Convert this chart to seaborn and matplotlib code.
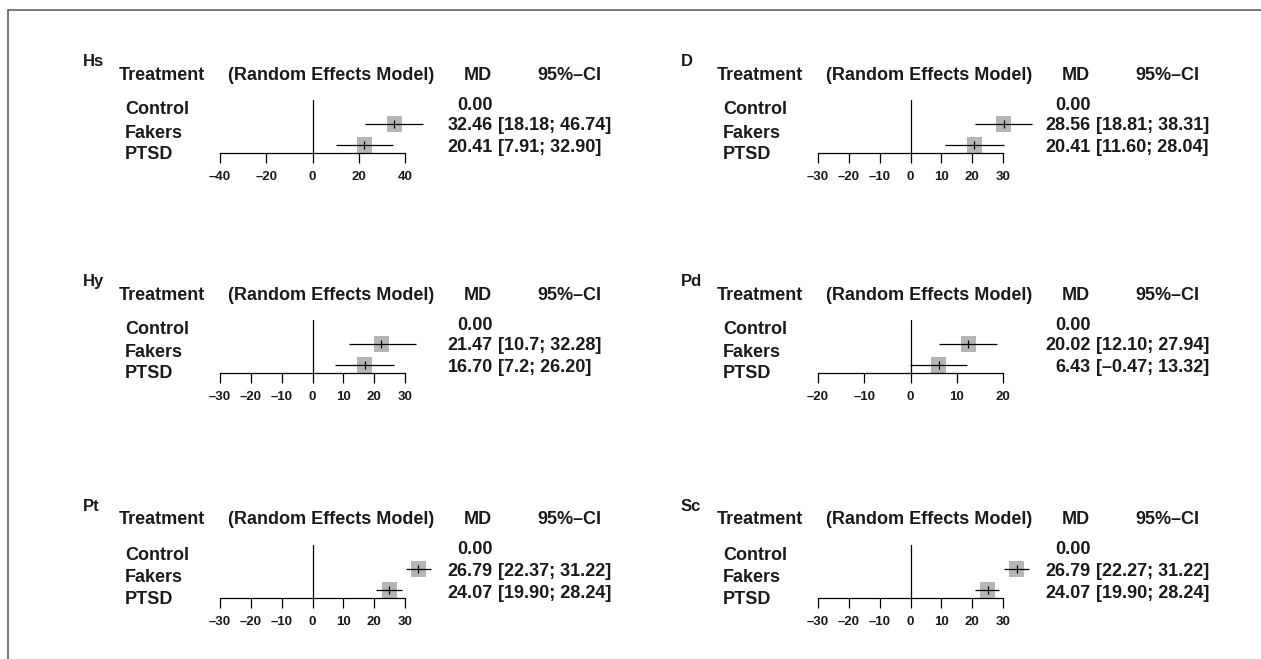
# Forest plots of MD (random effects model) for six MMPI scales

import numpy as np
import pandas as pd
import matplotlib
matplotlib.use("Agg")
import matplotlib.pyplot as plt
import seaborn as sns
from matplotlib.lines import Line2D

# 1. Data (positions of the marks)
scales = ['Hs', 'D', 'Hy', 'Pd', 'Pt', 'Sc']
treatments = ['Control', 'Fakers', 'PTSD']

fakers_est = [35.3, 30.2, 22.3, 12.5, 34.3, 34.4]
fakers_lo = [22.7, 20.8, 11.7, 6.2, 30.2, 30.3]
fakers_hi = [47.8, 39.5, 33.6, 18.7, 38.3, 38.5]
ptsd_est = [22.4, 20.7, 16.9, 6.1, 24.9, 25.0]
ptsd_lo = [10.0, 11.2, 7.4, -0.2, 20.7, 20.8]
ptsd_hi = [35.0, 30.2, 26.3, 12.3, 29.0, 28.8]

# printed values
md_fakers = ['32.46', '28.56', '21.47', '20.02', '26.79', '26.79']
ci_fakers = ['[18.18; 46.74]', '[18.81; 38.31]', '[10.7; 32.28]',
             '[12.10; 27.94]', '[22.37; 31.22]', '[22.27; 31.22]']
md_ptsd = ['20.41', '20.41', '16.70', '6.43', '24.07', '24.07']
ci_ptsd = ['[7.91; 32.90]', '[11.60; 28.04]', '[7.2; 26.20]',
           '[\u20130.47; 13.32]', '[19.90; 28.24]', '[19.90; 28.24]']

axis_ticks = [[-40, -20, 0, 20, 40],
              [-30, -20, -10, 0, 10, 20, 30],
              [-30, -20, -10, 0, 10, 20, 30],
              [-20, -10, 0, 10, 20],
              [-30, -20, -10, 0, 10, 20, 30],
              [-30, -20, -10, 0, 10, 20, 30]]

# 2. Figure setup
sns.set_theme(style='white')
plt.rcParams['font.family'] = ['Liberation Sans', 'DejaVu Sans']

W, H = 1261, 659
fig = plt.figure(figsize=(W / 100, H / 100), dpi=100)
fig.patch.set_facecolor('white')


def fx(x):
    return x / W


def fy(y):
    return 1 - y / H


TXT = '#1a1a1a'
FS = 13


def put(x, y, s, ha='left', fs=FS):
    fig.text(fx(x), fy(y), s, ha=ha, va='baseline', fontsize=fs,
             fontweight='bold', color=TXT)


# frame (only top and left edges show)
fig.add_artist(Line2D([fx(8), fx(8)], [fy(10), 0], color='#555555', lw=1.1))
fig.add_artist(Line2D([fx(8), 1], [fy(10), fy(10)], color='#555555', lw=1.1))

col_dx = [0, 598]
row_dy = [0, 220, 445]

# 3. Panels
for i, scale in enumerate(scales):
    dx = col_dx[i % 2]
    dy = row_dy[i // 2]

    put(83 + dx, 66 + dy, scale, fs=12)
    put(119 + dx, 79.5 + dy, 'Treatment')
    put(228 + dx, 79.5 + dy, '(Random Effects Model)')
    put(492 + dx, 79.5 + dy, 'MD', ha='right')
    put(537 + dx, 79.5 + dy, '95%\u2013CI')

    for t, yb in zip(treatments, [114.5, 137.5, 158.5]):
        put(125 + dx, yb + dy, t)

    put(493 + dx, 109.5 + dy, '0.00', ha='right')
    put(493 + dx, 130.5 + dy, md_fakers[i], ha='right')
    put(498 + dx, 130.5 + dy, ci_fakers[i])
    put(493 + dx, 152.5 + dy, md_ptsd[i], ha='right')
    put(498 + dx, 152.5 + dy, ci_ptsd[i])

    # forest part
    left, right, top, bottom = 220 + dx, 405 + dx, 100 + dy, 153 + dy
    ax = fig.add_axes([fx(left), fy(bottom), (right - left) / W, (bottom - top) / H])
    ax.patch.set_visible(False)

    df = pd.DataFrame({
        'group': ['Fakers', 'PTSD'],
        'row': [2, 1],
        'est': [fakers_est[i], ptsd_est[i]],
        'lo': [fakers_lo[i], ptsd_lo[i]],
        'hi': [fakers_hi[i], ptsd_hi[i]],
    })

    sns.scatterplot(data=df, x='est', y='row', marker='s', s=118,
                    color='#b5b5b5', edgecolor='none', linewidth=0,
                    legend=False, ax=ax, zorder=2, clip_on=False)
    ax.hlines(df['row'], df['lo'], df['hi'], color='black', lw=0.9,
              zorder=3, clip_on=False)
    ax.plot(df['est'], df['row'], '|', ms=6, mew=0.9, color='black',
            zorder=4, clip_on=False)
    ax.axvline(0, color='black', lw=0.9, zorder=1)

    ticks = axis_ticks[i]
    ax.set_xlim(ticks[0], ticks[-1])
    ax.set_ylim(0.62, 3.14)
    ax.set_xticks(ticks)
    ax.set_xticklabels([str(t).replace('-', '\u2013') for t in ticks],
                       fontweight='bold', color=TXT)
    ax.set_yticks([])
    ax.set_xlabel('')
    ax.set_ylabel('')
    ax.tick_params(axis='x', bottom=True, direction='out', length=7.2,
                   width=0.9, pad=5.5, labelsize=9.5, color='black')
    for side in ['top', 'left', 'right']:
        ax.spines[side].set_visible(False)
    ax.spines['bottom'].set_color('black')
    ax.spines['bottom'].set_linewidth(0.9)

fig.savefig('out.png', dpi=100, facecolor='white')
